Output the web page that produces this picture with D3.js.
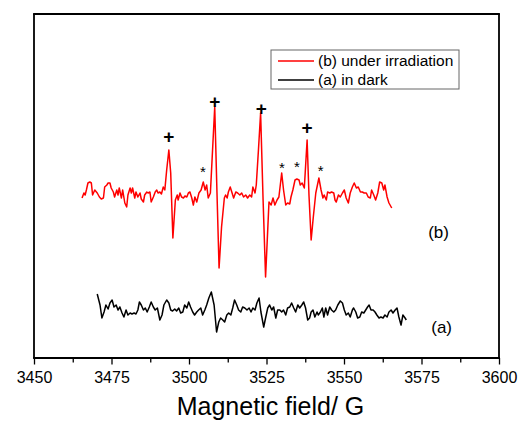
<!DOCTYPE html>
<html>
<head>
<meta charset="utf-8">
<script src="https://d3js.org/d3.v7.min.js"></script>
<style>
  html, body { margin: 0; padding: 0; background: #fff; overflow: hidden; }
  svg { display: block; }
  text { font-family: Arial, "Liberation Sans", sans-serif; }
</style>
</head>
<body>
<div id="epr"></div>
<script>
// (b) under irradiation - field (G) and signal (a.u.)
const fieldB = [3465.5,3466.1,3466.5,3466.9,3467.4,3468.0,3468.5,3468.9,3469.6,3470.4,3471.1,3471.7,3472.4,3472.8,3473.5,3473.9,3474.5,3474.9,3475.6,3476.0,
  3476.7,3477.1,3477.5,3478.2,3478.6,3479.3,3479.9,3480.3,3481.0,3481.4,3481.8,3482.5,3482.9,3483.5,3484.2,3484.6,3485.3,3485.7,3486.4,3486.8,
  3487.4,3487.8,3488.5,3489.1,3489.6,3490.0,3490.6,3491.1,3491.7,3492.2,3492.8,3493.5,3494.1,3494.8,3495.6,3496.2,3496.5,3497.1,3497.6,3498.2,
  3498.7,3499.3,3499.8,3500.3,3500.9,3501.4,3501.9,3502.5,3503.2,3503.9,3504.6,3505.2,3505.7,3506.2,3506.9,3507.6,3508.3,3509.0,3509.7,3510.5,
  3511.4,3511.8,3512.3,3512.7,3513.3,3513.8,3514.4,3515.1,3515.7,3516.4,3517.0,3517.6,3518.3,3518.9,3519.6,3520.2,3520.6,3521.3,3521.7,3522.4,
  3523.1,3523.9,3524.7,3525.1,3525.8,3526.5,3527.1,3527.7,3528.4,3529.0,3529.9,3530.5,3531.2,3531.8,3532.5,3532.9,3533.5,3534.2,3534.8,3535.5,
  3535.9,3536.5,3537.2,3538.1,3538.7,3539.4,3540.1,3540.9,3541.9,3542.6,3543.2,3543.6,3544.3,3544.7,3545.4,3546.0,3546.7,3547.1,3547.5,3548.2,
  3548.8,3549.5,3550.1,3550.7,3551.4,3552.0,3552.7,3553.3,3554.0,3554.6,3555.3,3555.9,3556.5,3557.2,3557.8,3558.5,3558.9,3559.6,3560.2,3560.9,
  3561.5,3562.2,3562.8,3563.2,3563.9,3564.5,3565.4];
const signalB = [16.0,16.5,16.3,16.8,17.5,17.6,17.5,16.3,16.8,16.5,16.1,15.9,16.0,17.1,17.3,17.5,17.5,17.0,16.6,16.1,
  16.8,16.3,17.0,16.0,16.8,15.5,15.1,16.3,17.0,16.5,17.0,16.0,16.6,16.1,16.5,15.9,15.6,16.3,16.6,16.5,
  16.6,15.6,16.1,16.6,16.8,16.5,16.6,16.4,17.1,16.8,18.8,20.8,18.5,12.0,15.8,16.3,15.8,16.5,16.1,16.0,
  16.2,16.1,16.5,16.6,16.0,15.3,16.1,15.6,16.5,16.8,17.6,16.8,17.3,16.0,16.5,20.8,25.1,16.8,9.0,13.1,
  16.0,16.3,16.0,16.6,17.1,16.6,16.0,16.6,16.5,16.3,16.5,16.1,16.3,16.0,16.3,16.1,17.1,16.5,17.3,20.8,
  24.5,15.8,8.1,10.8,15.6,15.3,16.0,15.3,15.8,16.1,18.5,16.8,15.3,15.5,15.4,16.1,16.8,17.8,17.9,17.8,
  17.3,17.5,17.0,21.8,16.3,11.8,14.1,16.5,18.0,16.8,16.0,16.3,15.8,16.6,16.5,16.6,16.5,15.8,15.6,16.3,
  16.1,16.5,16.8,16.0,15.5,16.5,17.1,17.5,17.0,17.1,16.6,16.6,16.5,16.5,16.1,16.0,16.8,16.3,15.8,16.5,
  17.6,17.5,16.8,17.3,16.1,15.5,15.0];

// (a) in dark
const fieldA = [3470.4,3471.3,3471.9,3472.6,3473.2,3473.9,3474.5,3475.2,3475.8,3476.5,3477.1,3477.7,3478.4,3479.0,3479.7,3480.3,3481.0,3481.6,3482.3,3482.9,
  3483.5,3484.0,3484.6,3485.3,3485.9,3486.5,3487.2,3487.8,3488.5,3489.1,3489.8,3490.6,3491.3,3491.9,3492.8,3493.5,3494.1,3494.7,3495.4,3496.0,
  3496.7,3497.3,3498.0,3498.6,3499.3,3499.9,3500.5,3501.2,3501.8,3502.5,3503.1,3503.8,3504.4,3505.1,3505.7,3506.4,3507.2,3508.1,3508.9,3509.6,
  3510.2,3510.9,3511.5,3512.2,3512.8,3513.5,3514.1,3514.7,3515.4,3516.0,3516.7,3517.3,3518.0,3518.7,3519.4,3520.0,3520.6,3521.3,3521.9,3522.6,
  3523.2,3524.1,3524.7,3525.4,3526.0,3526.7,3527.3,3528.0,3528.6,3529.3,3529.9,3530.5,3531.2,3531.8,3532.5,3533.1,3533.8,3534.4,3535.1,3535.7,
  3536.4,3537.0,3537.6,3538.3,3538.9,3539.4,3540.0,3540.6,3541.3,3541.7,3542.4,3543.0,3543.5,3544.1,3544.7,3545.4,3546.0,3546.7,3547.3,3548.0,
  3548.8,3549.5,3550.1,3550.7,3551.4,3552.0,3552.7,3553.1,3553.8,3554.4,3555.1,3555.7,3556.4,3557.0,3557.6,3558.1,3558.7,3559.4,3560.0,3560.6,
  3561.3,3561.9,3562.6,3563.2,3563.9,3564.5,3565.2,3565.8,3566.5,3567.1,3567.7,3568.4,3569.0,3569.7,3570.1];
const signalA = [6.4,5.3,4.0,4.6,5.3,4.9,5.5,5.8,5.1,5.3,4.8,5.1,4.5,4.1,4.8,4.3,4.5,4.4,4.5,4.4,
  4.8,5.6,5.3,4.8,5.0,4.6,5.1,5.6,5.1,4.8,5.0,3.8,4.3,5.3,5.8,5.5,4.8,4.7,4.9,4.7,
  5.0,4.5,4.6,5.3,5.0,5.6,5.1,4.6,4.3,4.6,4.8,5.0,4.3,4.8,5.3,6.0,6.6,5.3,2.6,3.6,
  4.0,3.8,3.6,4.3,4.5,4.3,5.0,5.8,5.3,4.8,4.6,5.1,5.0,4.8,5.0,4.6,5.0,4.8,5.5,6.0,
  4.6,3.1,4.0,5.0,5.3,4.8,5.1,4.0,4.8,4.8,4.6,4.8,4.3,5.0,5.1,5.5,5.0,4.6,5.3,5.0,
  5.3,5.6,5.0,3.8,4.0,4.6,4.8,4.1,4.6,4.3,4.6,5.0,4.1,5.0,4.3,5.1,4.8,4.6,4.8,5.3,
  5.7,5.5,4.8,4.3,4.5,4.1,4.8,5.0,4.6,4.0,4.1,4.6,4.5,4.8,5.1,5.3,4.8,4.8,4.6,4.3,
  4.0,4.1,4.0,4.3,4.1,4.6,4.8,4.5,4.8,5.0,4.1,3.3,4.3,4.0,3.8];

// line markers above the peaks
const plusField = [3493.5, 3508.3, 3523.3, 3538.1];
const plusSignal = [22.1, 25.6, 24.9, 23.0];
const starField = [3504.5, 3530.0, 3534.8, 3542.5];
const starSignal = [19.2, 19.6, 19.7, 19.3];

const majorTicks = [3450, 3475, 3500, 3525, 3550, 3575, 3600];
const minorTicks = [3462.5, 3487.5, 3512.5, 3537.5, 3562.5, 3587.5];

const legendLabels = ["(b) under irradiation", "(a) in dark"];
const seriesColors = ["#ff0000", "#000000"];

var width = 520
var height = 421

var svg = d3.select("#epr").append("svg")
    .attr("width", width)
    .attr("height", height)

const margin = {top: 14, right: 21, bottom: 63, left: 34};
const plotW = width - margin.left - margin.right;
const plotH = height - margin.top - margin.bottom;

const xScale = d3.scaleLinear()
    .domain([3450, 3600])
    .range([0, plotW]);

const yScale = d3.scaleLinear()
    .domain([0, 34.4])
    .range([plotH, 0]);

const g = svg.append("g")
    .attr("transform", `translate(${margin.left}, ${margin.top})`);

// minor ticks
const minorAxis = d3.axisBottom(xScale).tickValues(minorTicks).tickFormat("").tickSize(4.5).tickSizeOuter(0);
const minorG = g.append("g").attr("transform", `translate(0, ${plotH})`).call(minorAxis);
minorG.select(".domain").remove();
minorG.selectAll("line").attr("stroke-width", 1.3);

const xAxis = d3.axisBottom(xScale).tickValues(majorTicks).tickFormat(d3.format("d"))
    .tickSize(6.5).tickSizeOuter(0).tickPadding(7);
const xAxisG = g.append("g").attr("transform", `translate(0, ${plotH})`).call(xAxis);
xAxisG.select(".domain").remove();
xAxisG.selectAll("line").attr("stroke-width", 1.3);
xAxisG.selectAll("text").attr("font-size", 16).attr("font-family", "Arial, 'Liberation Sans', sans-serif").attr("fill", "#000");

// frame round the plot
const frame = g.append("g").attr("stroke", "#000").attr("stroke-width", 1.8);
frame.append("line").attr("x1", -0.9).attr("x2", plotW + 0.9).attr("y1", 0).attr("y2", 0);
frame.append("line").attr("x1", -0.9).attr("x2", plotW + 0.9).attr("y1", plotH).attr("y2", plotH);
frame.append("line").attr("x1", 0).attr("x2", 0).attr("y1", 0).attr("y2", plotH);
frame.append("line").attr("x1", plotW).attr("x2", plotW).attr("y1", 0).attr("y2", plotH);

const line = d3.line()
    .x(d => xScale(d[0]))
    .y(d => yScale(d[1]));

g.append("path")
    .datum(fieldA.map((f, i) => [f, signalA[i]]))
    .attr("d", line)
    .attr("fill", "none")
    .attr("stroke", seriesColors[1])
    .attr("stroke-width", 1.5)
    .attr("stroke-linejoin", "round");

g.append("path")
    .datum(fieldB.map((f, i) => [f, signalB[i]]))
    .attr("d", line)
    .attr("fill", "none")
    .attr("stroke", seriesColors[0])
    .attr("stroke-width", 1.5)
    .attr("stroke-linejoin", "round");

g.selectAll(".plus").data(plusField)
  .enter().append("text")
    .attr("class", "plus")
    .attr("x", d => xScale(d))
    .attr("y", (d, i) => yScale(plusSignal[i]))
    .attr("dy", "0.33em")
    .attr("text-anchor", "middle")
    .attr("font-size", 19)
    .attr("font-weight", "bold")
    .text("+");

g.selectAll(".star").data(starField)
  .enter().append("text")
    .attr("class", "star")
    .attr("x", d => xScale(d))
    .attr("y", (d, i) => yScale(starSignal[i]))
    .attr("dy", "0.75em")
    .attr("text-anchor", "middle")
    .attr("font-size", 15)
    .text("*");

// curve labels
g.append("text").attr("x", xScale(3580.5)).attr("y", yScale(12.0)).attr("text-anchor", "middle")
    .attr("font-size", 17).text("(b)");
g.append("text").attr("x", xScale(3581.5)).attr("y", yScale(2.5)).attr("text-anchor", "middle")
    .attr("font-size", 17).text("(a)");

// legend
const legend = svg.append("g").attr("transform", "translate(271, 50)");
legend.append("rect")
    .attr("width", 188)
    .attr("height", 39)
    .attr("fill", "#fff")
    .attr("stroke", "#666")
    .attr("stroke-width", 1);

legendLabels.forEach((lab, i) => {
    legend.append("line")
        .attr("x1", 7).attr("x2", 43)
        .attr("y1", 11 + i * 19).attr("y2", 11 + i * 19)
        .attr("stroke", seriesColors[i])
        .attr("stroke-width", 1.5);
    legend.append("text")
        .attr("x", 47)
        .attr("y", 11 + i * 19)
        .attr("dy", "0.35em")
        .attr("font-size", 15.5)
        .text(lab);
});

svg.append("text")
    .attr("x", margin.left + plotW / 2 + 4)
    .attr("y", 415)
    .attr("text-anchor", "middle")
    .attr("font-size", 25)
    .text("Magnetic field/ G");
</script>
</body>
</html>
